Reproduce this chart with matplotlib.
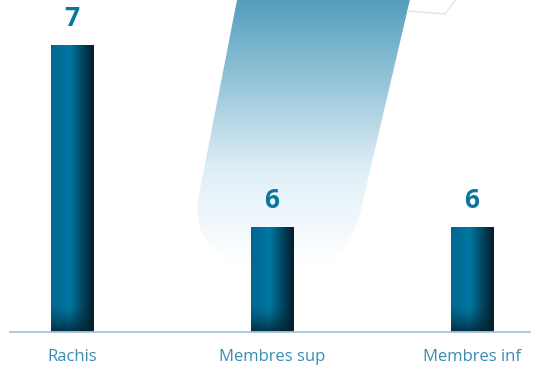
import numpy as np
import matplotlib.pyplot as plt
from matplotlib.path import Path
from matplotlib.patches import PathPatch

categories = ['Rachis', 'Membres sup', 'Membres inf']
values = [7, 6, 6]

W, H = 536, 367
fig = plt.figure(figsize=(W / 100, H / 100), dpi=100)

# decorative background band (figure pixel space, y down)
bg = fig.add_axes([0, 0, 1, 1], zorder=0)
bg.set_xlim(0, W)
bg.set_ylim(H, 0)
bg.axis('off')

verts = [(238, -5), (411, -5), (362, 205),
         (356, 230), (345, 262), (315, 263),
         (250, 263), (205, 262), (197, 225), (197, 205),
         (238, -5)]
codes = [Path.MOVETO, Path.LINETO, Path.LINETO,
         Path.CURVE4, Path.CURVE4, Path.CURVE4,
         Path.LINETO, Path.CURVE4, Path.CURVE4, Path.CURVE4,
         Path.CLOSEPOLY]
band = PathPatch(Path(verts, codes), facecolor='none', edgecolor='none')
bg.add_patch(band)

t = np.linspace(0, 1, 300)[:, None]
top = np.array([0.33, 0.62, 0.74])
mid = np.array([0.88, 0.94, 0.97])
bot = np.array([1.0, 1.0, 1.0])
grad = np.where(t < 0.65,
                top + (mid - top) * (t / 0.65),
                mid + (bot - mid) * ((t - 0.65) / 0.35))
grad = np.repeat(grad[:, None, :], 2, axis=1)
im = bg.imshow(grad, extent=(190, 420, 265, 0), aspect='auto', zorder=1)
im.set_clip_path(band)
# faint card edge top right
bg.plot([408, 445, 456], [11, 14, -1], color='#e6e9eb', lw=1.2, zorder=1)

# main chart
ax = fig.add_axes([0, (H - 332) / H, 1, 332 / H], zorder=2)
ax.patch.set_alpha(0)
ybase = 6 - 105 / 182
ax.set_ylim(ybase, 7 + 45 / 182)
ax.set_xlim(-72 / 200, (W - 72) / 200)

bw = 0.215
u = np.linspace(0, 1, 60)
stops = [0.0, 0.42, 1.0]
cl = np.array([[0.00, 0.40, 0.56], [0.00, 0.47, 0.64], [0.01, 0.11, 0.16]])
row = np.stack([np.interp(u, stops, cl[:, k]) for k in range(3)], axis=1)
dark = np.array([0.01, 0.13, 0.19])

for i, (cat, v) in enumerate(zip(categories, values)):
    ys = np.linspace(v, ybase, 200)
    f = np.clip(1 - (ys - ybase) / 0.14, 0, 1) ** 1.3 * 0.8
    img = row[None, :, :] * (1 - f[:, None, None]) + dark * f[:, None, None]
    ax.imshow(img, extent=(i - bw / 2, i + bw / 2, ybase, v),
              aspect='auto', zorder=3)
    ax.text(i, v + 0.145, str(v), ha='center', va='center',
            fontsize=19, fontweight='bold', color='#0a76a0',
            family='Open Sans')

ax.plot([10 / 200 - 0.36, 530 / 200 - 0.36], [ybase, ybase],
        color='#a9c6da', lw=1.3, clip_on=False, zorder=4)

ax.set_xticks(range(len(categories)))
ax.set_xticklabels(categories, fontsize=12, color='#3a8cb2', family='Open Sans')
ax.tick_params(axis='x', length=0, pad=12)
ax.set_yticks([])
for s in ax.spines.values():
    s.set_visible(False)

fig.savefig('out.png', dpi=100)
